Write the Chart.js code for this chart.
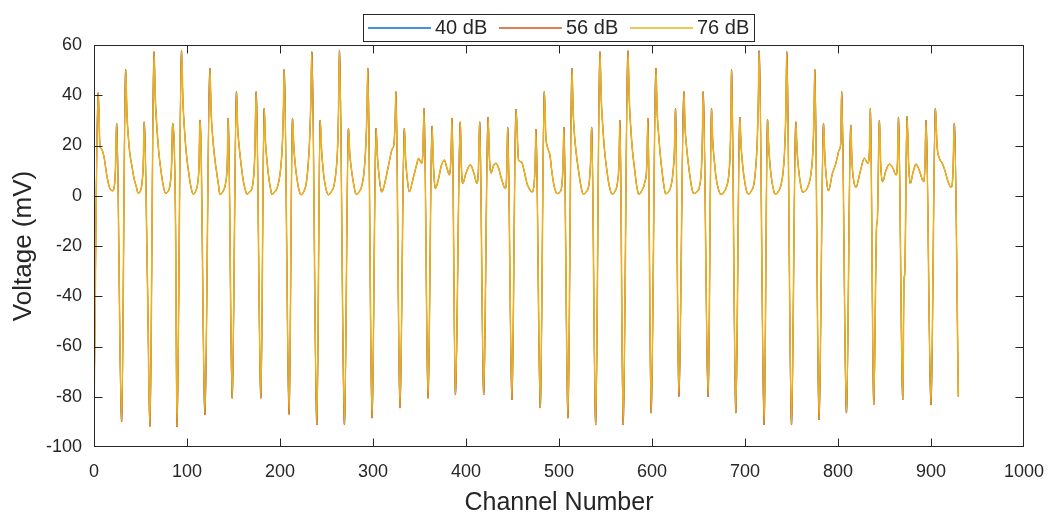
<!DOCTYPE html>
<html>
<head>
<meta charset="utf-8">
<script src="https://cdn.jsdelivr.net/npm/chart.js@4.4.1/dist/chart.umd.min.js"></script>
<style>
  html, body { margin: 0; padding: 0; background: #fff; }
  #wrap { width: 1051px; height: 518px; position: relative; }
</style>
</head>
<body>
<div id="wrap"><canvas id="c" width="1051" height="518"></canvas></div>
<script>
// ── Data ────────────────────────────────────────────────────────────────────────
const seriesLabels = ['40 dB', '56 dB', '76 dB'];
const seriesColors = ['#0072BD', '#D95319', '#EDB120'];
const xTicks = [0, 100, 200, 300, 400, 500, 600, 700, 800, 900, 1000];
const yTicks = [-100, -80, -60, -40, -20, 0, 20, 40, 60];

// [channel, mV] – the 76 dB trace; the other two lie underneath it.
const trace76 = [
  [0,-86],[4.5,41],[6.4,20],[8.2,18.5],[11,15],[13.6,8.5],[16.4,3.6],[19.7,2],[21.8,3.6],[23.2,12],[24.3,28.8],
  [29.7,-90],[34,50.2],[35.5,32],[36.6,25],[38.5,17],[40.9,11.5],[43,7],[45.5,3.6],[47.5,1],[50,2],[51.6,5],[53,13],[54,29.4],
  [57.6,-37],[60.1,-91.8],[64.5,57.3],[66,38],[67.5,28],[69.5,18],[72,10],[74.5,4],[77,0.9],[80,2],[82,5],[83.5,13],[84.5,28.8],
  [87.7,-11.6],[89.2,-92],[94.1,57.7],[95.6,38],[97,28],[99,18],[101.5,10],[104,4],[106.7,0.6],[109.5,2],[111.5,5],[113,13],[113.9,30.1],
  [115,22],[119.2,-87.2],[124.6,50.7],[126,33],[127.5,24],[129.5,16],[132,9],[134,4],[135.4,0.5],[139,2],[141.5,5],[143.3,13],[144.3,30.8],
  [148.6,-80.6],[153.2,41.4],[154.5,27],[156,20],[158,13],[160.5,6],[163,2],[164.4,0.6],[167,1.5],[170.3,3.6],[172.8,15.5],[174.4,41.4],
  [179.4,-80.6],[183,34.7],[184.3,22],[186,14],[188,7],[190,2.5],[191.2,0.5],[194,1.5],[197.3,3.6],[200.9,11.5],[202.7,22],[203.7,35],[204.5,50.2],
  [209.8,-87],[213.4,30.8],[214.8,20],[216.5,12],[219,5],[221,1.5],[222.7,0.4],[226,2],[228,4.5],[230,11],[231.8,22],[233.2,38],[234.2,57.3],
  [239.6,-91.2],[243.2,30],[244.6,19],[246.5,10],[249,3.5],[252.1,0.4],[255,1.5],[258,4],[260,9],[261.8,18],[263,35],[263.9,57.7],
  [269.3,-91.2],[273.6,26.8],[275,17],[277,10],[279.5,4],[281.8,0.6],[285,1.5],[288,4],[290.5,10],[292.5,22],[293.6,35],[294.4,50.7],
  [299,-88.5],[303.3,26.8],[304.7,16],[306.5,8],[309.4,1.5],[312,4],[315,9],[318,14.5],[320.5,18.5],[322.5,20.5],[323.8,30],[324.6,41.4],
  [329,-84.5],[333.7,26.8],[335,15],[336.5,8],[339.1,1.6],[342.7,6.2],[346.3,11.5],[349.2,14.9],[352,12.9],[353.5,16],[354.9,34.7],
  [359.2,-80.6],[363.5,27.7],[365,12],[367,2.9],[370,6],[373.5,12],[376.7,14.2],[379.5,11],[382.1,8.3],[383.8,15],[385,30.8],
  [388.6,-79.2],[393.9,29.4],[395,12],[396.4,4.9],[400,9],[404.7,12.3],[408.5,9],[411.8,4.9],[413.3,10],[414.7,29.4],
  [419,-79.2],[423.7,31.2],[425.2,15],[426.9,9],[429.5,12],[432.3,12.9],[435,11],[438,7],[442.3,2.9],[443.8,9],[444.8,27.2],
  [449.4,-81.2],[453.7,34.4],[456.6,14],[459.5,13.5],[462.5,10],[465.5,5],[468.5,2.5],[470.9,1.5],[473,4],[474.3,12],[475.2,26.4],
  [479.9,-84.5],[484.2,41.4],[485.8,24],[487.4,19.6],[490.3,16],[492.5,9],[495,3.5],[498.1,0.9],[501,1.5],[503,4],[504.3,12],[505.3,27.2],
  [509.6,-88.5],[513.9,50.7],[515.3,33],[516.5,25],[518.5,17],[521,10],[523.5,4],[526.1,0.6],[529,1.5],[532,4],[533.8,12],[535.1,27.2],
  [539.4,-91.2],[544,57.3],[545.5,38],[547,28],[549,18],[551.5,10],[554,4],[557.2,0.6],[560.5,2],[562.8,5],[564.5,13],[565.5,30],
  [569,-91.2],[574.1,57.7],[575.6,38],[577,28],[579,18],[581.5,10],[583.5,4],[585.9,0.6],[589,2],[592,5],[594.5,13],[595.6,30.8],
  [599.1,-86.5],[604.2,50.7],[605.6,33],[607,25],[609,16],[611,9],[613,3.5],[614.6,0.8],[617.5,1.5],[620.5,4],[622.5,9],[624,17],[625.3,34.7],
  [628.9,-79.9],[634.3,41.4],[635.6,27],[637,20],[639,13],[641.5,6],[643.5,2],[645.1,0.9],[648,1.5],[651,3.5],[653.3,12],[654.2,24],[655,41.4],
  [660.4,-80],[664,34.7],[665.3,22],[667,14],[669,7],[671.5,2.5],[674,0.5],[677.5,1.5],[680.5,4],[682.5,8],[684,17],[684.8,30],[685.5,50.2],
  [690.1,-86.5],[694.4,31.2],[695.8,20],[697.5,12],[700,5],[702,1.5],[703.8,0.6],[707,2],[709.5,4.5],[711.5,11],[713.2,22],[714.3,38],[715.2,57.7],
  [720.6,-91.2],[724.2,30.3],[725.6,19],[727.5,10],[730,3.5],[732.4,0.6],[735.5,1.5],[738.5,4],[740.8,9],[742.6,18],[744,35],[744.9,57.3],
  [750,-91.2],[754.6,29.4],[756,18],[757.8,10],[760,4],[761.8,1.5],[765,2],[768,4],[771,9],[773,18],[774.2,32],[775,50.2],
  [779.6,-89.2],[784.4,28.8],[785.8,16],[787.5,7],[789.7,2],[794,8.9],[797,12],[799.4,15.5],[801.1,18.2],[803,21],[803.9,41.4],
  [809.1,-86.5],[813.7,28.1],[815,14],[816.5,7],[819.4,3.4],[823.5,9],[828.4,14.9],[832,12.9],[833.8,18],[834.8,34.7],
  [838.4,-83.2],[841.5,-12],[842.3,-10],[844.5,30],[846,12],[848,5.6],[851.5,10],[855.3,12.6],[859,11],[862.4,8.3],[864,14],[865,31.2],
  [869.6,-81.2],[871,-33.5],[871.8,-31],[874.2,31.5],[876,12],[877.8,4.9],[880.5,9],[883.9,12.6],[887.5,10],[892.1,5.6],[893.5,12],[894.6,30],
  [900,-83.2],[904.7,34.7],[906.5,20],[909,14.9],[912,13],[915,10],[918,6],[921.5,3.4],[923.5,8],[925.1,28.8],[929.4,-80]
];
// 40 dB and 56 dB are indistinguishable from 76 dB in the picture.
const trace56 = trace76;
const trace40 = trace76;

// ── Styling ──────────────────────────────────────────────────────────────────────
const AXIS = '#262626';
const FONT = '"Liberation Sans", Arial, sans-serif';
const TICK = 8;

// Box + inward ticks on all four sides, MATLAB style, plus the boxed legend.
const matlabFrame = {
  id: 'matlabFrame',
  afterDraw(chart) {
    const { ctx, chartArea: a, scales: { x, y } } = chart;
    const L = Math.round(a.left) + 0.5, R = Math.round(a.right) - 0.5;
    const T = Math.round(a.top) + 0.5, B = Math.round(a.bottom) - 0.5;
    ctx.save();
    ctx.strokeStyle = AXIS;
    ctx.lineWidth = 1;
    ctx.beginPath();
    xTicks.forEach(v => {
      const px = Math.min(R, Math.round(x.getPixelForValue(v)) + 0.5);
      ctx.moveTo(px, B); ctx.lineTo(px, B - TICK);
      ctx.moveTo(px, T); ctx.lineTo(px, T + TICK);
    });
    yTicks.forEach(v => {
      const py = Math.min(B, Math.round(y.getPixelForValue(v)) + 0.5);
      ctx.moveTo(L, py); ctx.lineTo(L + TICK, py);
      ctx.moveTo(R, py); ctx.lineTo(R - TICK, py);
    });
    ctx.stroke();
    ctx.strokeRect(L, T, R - L, B - T);

    // legend
    const lx = 363.5, ly = 14.5, lw = 391, lh = 27;
    ctx.fillStyle = '#fff';
    ctx.fillRect(lx, ly, lw, lh);
    ctx.strokeRect(lx, ly, lw, lh);
    const lineStarts = [368, 499, 630];
    ctx.font = '20px ' + FONT;
    ctx.textBaseline = 'middle';
    seriesLabels.forEach((lab, i) => {
      const sx = lineStarts[i];
      ctx.strokeStyle = seriesColors[i];
      ctx.lineWidth = 1.4;
      ctx.beginPath();
      ctx.moveTo(sx, 28); ctx.lineTo(sx + 63, 28);
      ctx.stroke();
      ctx.fillStyle = AXIS;
      ctx.fillText(lab, sx + 67, 28.5);
    });
    ctx.restore();
  }
};

const traces = [trace40, trace56, trace76];

new Chart(document.getElementById('c').getContext('2d'), {
  type: 'line',
  data: {
    datasets: traces.map((tr, i) => ({
      label: seriesLabels[i],
      data: tr.map(p => ({ x: p[0], y: p[1] })),
      borderColor: seriesColors[i],
      backgroundColor: seriesColors[i],
      borderWidth: i === traces.length - 1 ? 1.6 : 1,
      pointRadius: 0,
      cubicInterpolationMode: 'monotone',
      fill: false,
      order: traces.length - i   // 76 dB drawn last, on top
    }))
  },
  options: {
    responsive: false,
    animation: false,
    events: [],
    layout: { padding: { left: 0, right: 27, top: 45, bottom: 0 } },
    plugins: { legend: { display: false }, tooltip: { enabled: false } },
    scales: {
      x: {
        type: 'linear', min: 0, max: 1000,
        afterBuildTicks: s => { s.ticks = xTicks.map(v => ({ value: v })); },
        afterFit: s => { s.height = 71; s.paddingLeft = 0; s.paddingRight = 0; },
        grid: { display: false, drawTicks: false }, border: { display: false },
        ticks: { color: AXIS, font: { family: FONT, size: 18 }, padding: 14, maxRotation: 0,
                 callback: v => String(v) },
        title: { display: true, text: 'Channel Number', color: AXIS,
                 font: { family: FONT, size: 25 }, padding: { top: 0, bottom: 0 } }
      },
      y: {
        type: 'linear', min: -100, max: 60,
        afterBuildTicks: s => { s.ticks = yTicks.map(v => ({ value: v })); },
        afterFit: s => { s.width = 94; s.paddingTop = 0; s.paddingBottom = 0; },
        grid: { display: false, drawTicks: false }, border: { display: false },
        ticks: { color: AXIS, font: { family: FONT, size: 18 }, padding: 12,
                 callback: v => String(v) },
        title: { display: true, text: 'Voltage (mV)', color: AXIS,
                 font: { family: FONT, size: 26 }, padding: { top: 8, bottom: 0 } }
      }
    }
  },
  plugins: [matlabFrame]
});
</script>
</body>
</html>
